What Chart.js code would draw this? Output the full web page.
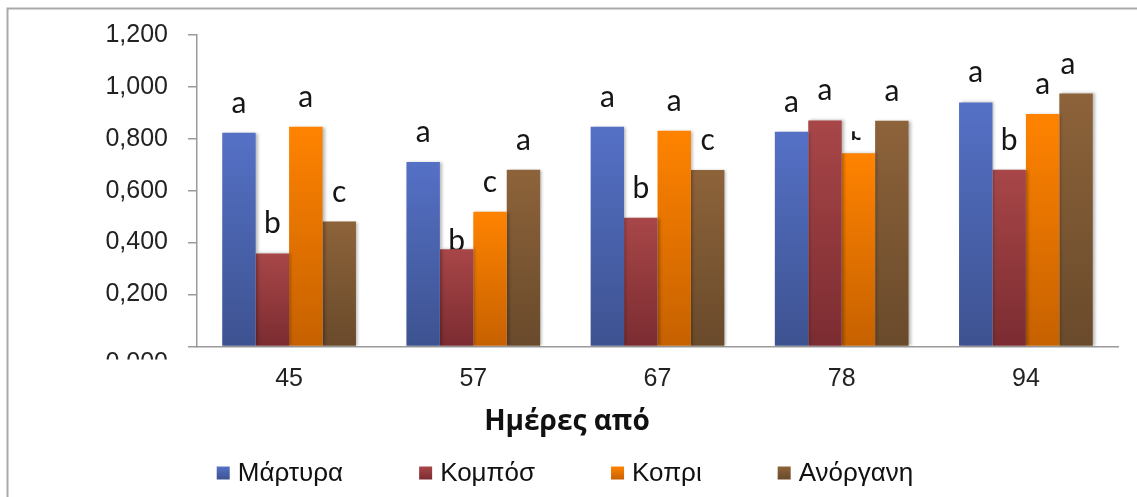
<!DOCTYPE html>
<html>
<head>
<meta charset="utf-8">
<title>Ημέρες από</title>
<script src="https://cdn.jsdelivr.net/npm/chart.js@4.4.1/dist/chart.umd.min.js"></script>
<style>
    html, body { margin: 0; padding: 0; background: #fff; }
    #wrap { position: relative; width: 1137px; height: 497px; }
</style>
</head>
<body>
<div id="wrap"><canvas id="barChart"></canvas></div>
<script>
// Ημέρες (κατηγορίες άξονα x)
const days = ['45', '57', '67', '78', '94'];

const seriesNames = ['Μάρτυρα', 'Κομπόσ', 'Κοπρι', 'Ανόργανη'];

const martyra  = [0.823, 0.711, 0.846, 0.827, 0.940];
const kompos   = [0.358, 0.374, 0.496, 0.871, 0.681];
const kopri    = [0.846, 0.519, 0.831, 0.744, 0.896];
const anorgani = [0.481, 0.681, 0.680, 0.870, 0.975];

// γράμματα στατιστικής σημαντικότητας πάνω από κάθε μπάρα
const lettersMartyra  = ['a', 'a', 'a', 'a', 'a'];
const lettersKompos   = ['b', 'b', 'b', 'a', 'b'];
const lettersKopri    = ['a', 'c', 'a', 'b', 'a'];
const lettersAnorgani = ['c', 'a', 'c', 'a', 'a'];

const yTickValues = [0, 0.2, 0.4, 0.6, 0.8, 1.0, 1.2];

const series = [martyra, kompos, kopri, anorgani];
const letters = [lettersMartyra, lettersKompos, lettersKopri, lettersAnorgani];

// χρώματα: πάνω (ανοιχτό) -> κάτω (σκούρο)
const shades = [
    ['#5571c6', '#3d5290'],
    ['#a84648', '#7b2c31'],
    ['#ff8300', '#c66100'],
    ['#8d633a', '#694a2b']
];

const fmt = v => v.toFixed(3).replace('.', ',');

function barFill(top, bottom) {
    return (ctx) => {
        const chart = ctx.chart;
        const y = chart.scales.y;
        if (!chart.chartArea || !y || ctx.type !== 'data') return top;
        const yTop = y.getPixelForValue(ctx.raw);
        const yBase = y.getPixelForValue(0);
        const g = chart.ctx.createLinearGradient(0, yTop, 0, yBase);
        g.addColorStop(0, top);
        g.addColorStop(1, bottom);
        return g;
    };
}

// μικρές μετατοπίσεις για μερικά γράμματα (dataset-index)
const letterNudge = {
    '1-1': { dy: 22 },
    '2-3': { dy: 7, clip: [-10, -9, 12, 11] },
    '3-4': { dx: -8, dy: 1 }
};

const framePlugin = {
    id: 'frame',
    beforeDraw(chart) {
        const c = chart.ctx;
        c.save();
        c.strokeStyle = '#a9a9a9';
        c.lineWidth = 2;
        c.beginPath();
        c.moveTo(7.5, chart.height);
        c.lineTo(7.5, 8.5);
        c.lineTo(chart.width, 8.5);
        c.stroke();
        c.restore();
    }
};

const shadowPlugin = {
    id: 'barShadow',
    beforeDatasetDraw(chart) {
        const c = chart.ctx;
        c.save();
        c.shadowColor = 'rgba(0,0,0,0.28)';
        c.shadowBlur = 3;
        c.shadowOffsetX = 2;
        c.shadowOffsetY = 0;
    },
    afterDatasetDraw(chart) {
        chart.ctx.restore();
    }
};

const letterPlugin = {
    id: 'letters',
    beforeDatasetsDraw(chart) {
        const c = chart.ctx;
        c.save();
        c.font = '30px Lato, "Open Sans", sans-serif';
        c.fillStyle = '#151515';
        c.textAlign = 'center';
        c.textBaseline = 'alphabetic';
        chart.data.datasets.forEach((ds, di) => {
            chart.getDatasetMeta(di).data.forEach((bar, i) => {
                const n = letterNudge[di + '-' + i] || {};
                const x = bar.x + (n.dx || 0);
                const y = bar.y - 20 + (n.dy || 0);
                if (n.clip) {
                    c.save();
                    c.beginPath();
                    c.rect(x + n.clip[0], y + n.clip[1], n.clip[2], n.clip[3]);
                    c.clip();
                    c.fillText(letters[di][i], x, y);
                    c.restore();
                } else {
                    c.fillText(letters[di][i], x, y);
                }
            });
        });
        c.restore();
    }
};

// η ετικέτα 0,000 είναι κομμένη στο κάτω μέρος
const zeroLabelPlugin = {
    id: 'zeroLabel',
    afterDraw(chart) {
        const c = chart.ctx;
        const y = chart.scales.y;
        const base = y.getPixelForValue(0);
        c.save();
        c.beginPath();
        c.rect(0, 0, chart.chartArea.left - 5, base + 13);
        c.clip();
        c.font = '25px "Liberation Sans", Arial, sans-serif';
        c.fillStyle = '#222';
        c.textAlign = 'right';
        c.textBaseline = 'alphabetic';
        c.fillText(fmt(0), chart.chartArea.left - 29, base + 24);
        c.restore();
    }
};

const legendPlugin = {
    id: 'bottomLegend',
    afterDraw(chart) {
        const c = chart.ctx;
        const box = 13, gap = 8, spacing = 76;
        const cy = chart.height - 24;
        c.save();
        c.font = '26px "Liberation Sans", Arial, sans-serif';
        c.textBaseline = 'middle';
        c.textAlign = 'left';
        const widths = seriesNames.map(t => c.measureText(t).width);
        const total = widths.reduce((s, w) => s + box + gap + w, 0) + spacing * (widths.length - 1);
        let x = 565 - total / 2;
        seriesNames.forEach((name, i) => {
            const g = c.createLinearGradient(0, cy - box / 2, 0, cy + box / 2);
            g.addColorStop(0, shades[i][0]);
            g.addColorStop(1, shades[i][1]);
            c.fillStyle = g;
            c.fillRect(x, cy - box / 2, box, box);
            c.fillStyle = '#111';
            c.fillText(name, x + box + gap, cy + 1);
            x += box + gap + widths[i] + spacing;
        });
        c.restore();
    }
};

const datasets = seriesNames.map((name, i) => ({
    label: name,
    data: series[i],
    backgroundColor: barFill(shades[i][0], shades[i][1]),
    borderWidth: 0,
    barPercentage: 1.0,
    categoryPercentage: 0.726
}));

const ctx = document.getElementById('barChart').getContext('2d');
new Chart(ctx, {
    type: 'bar',
    data: {
        labels: days,
        datasets: datasets
    },
    options: {
        responsive: true,
        maintainAspectRatio: false,
        animation: false,
        layout: {
            padding: { top: 27, left: 16, right: 19, bottom: 58 }
        },
        plugins: {
            legend: { display: false },
            tooltip: { enabled: false },
            title: {
                display: true,
                position: 'bottom',
                text: 'Ημέρες από',
                color: '#111',
                font: { family: '"Open Sans", sans-serif', size: 28, weight: 'bold', lineHeight: 1.2 },
                padding: { top: 12, bottom: 0 }
            }
        },
        scales: {
            x: {
                afterFit(scale) { scale.height = 47; },
                grid: { display: false, drawTicks: false },
                border: { display: true, color: '#9a9a9a', width: 1.5 },
                ticks: {
                    padding: 18,
                    color: '#222',
                    font: { family: '"Liberation Sans", Arial, sans-serif', size: 25 }
                }
            },
            y: {
                min: 0,
                max: 1.2,
                afterFit(scale) { scale.width = 181; },
                afterBuildTicks(scale) {
                    scale.ticks = yTickValues.map(v => ({ value: v }));
                },
                grid: {
                    drawOnChartArea: false,
                    drawTicks: true,
                    tickLength: 9,
                    color: '#9a9a9a',
                    lineWidth: 1.5
                },
                border: { display: true, color: '#9a9a9a', width: 1.5 },
                ticks: {
                    padding: 20,
                    color: '#222',
                    font: { family: '"Liberation Sans", Arial, sans-serif', size: 25 },
                    callback: v => (v === 0 ? '' : fmt(v))
                }
            }
        }
    },
    plugins: [framePlugin, shadowPlugin, letterPlugin, zeroLabelPlugin, legendPlugin]
});
</script>
</body>
</html>
